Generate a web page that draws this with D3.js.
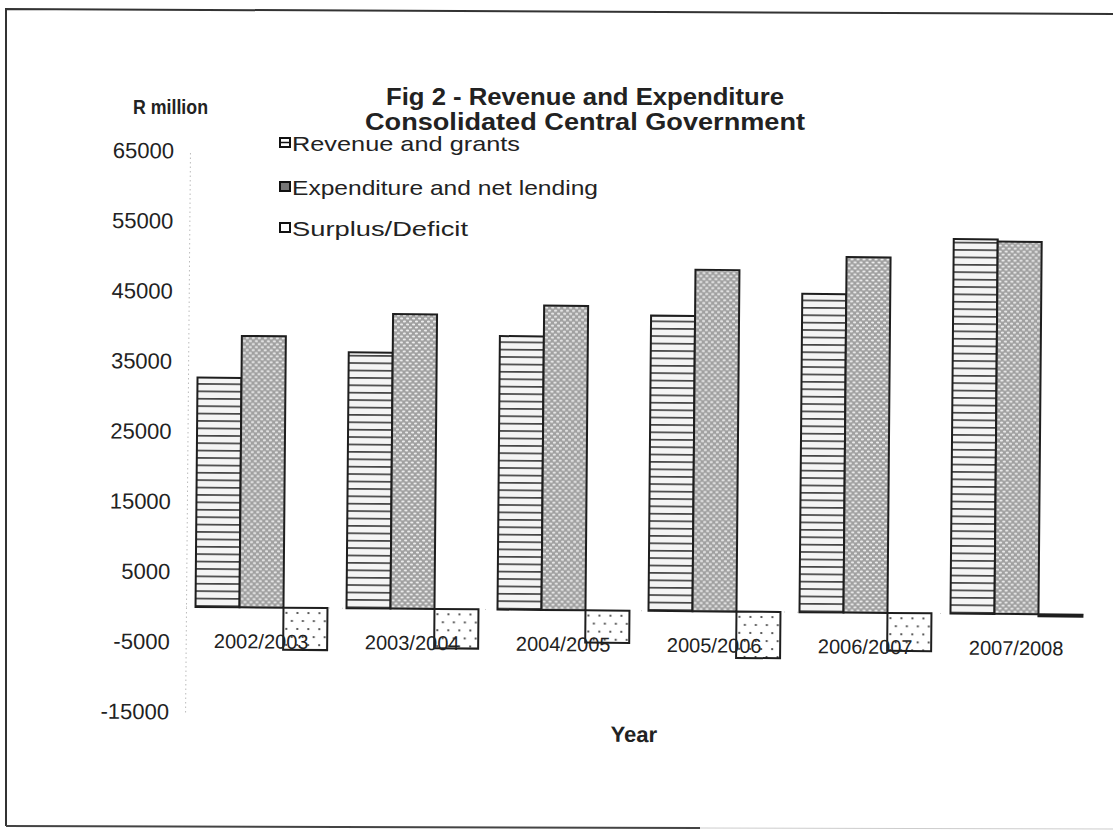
<!DOCTYPE html>
<html>
<head>
<meta charset="utf-8">
<script src="https://cdn.jsdelivr.net/npm/d3@7"></script>
<style>
  html, body { margin: 0; padding: 0; background: #fff; }
  svg text { font-family: "Liberation Sans", Arial, sans-serif; fill: #222; }
</style>
</head>
<body>
<svg id="chart" width="1113" height="833"></svg>
<script>
// ---- data ----
const categories = ["2002/2003", "2003/2004", "2004/2005", "2005/2006", "2006/2007", "2007/2008"];
const seriesNames = ["Revenue and grants", "Expenditure and net lending", "Surplus/Deficit"];
const revenue = [32700, 36500, 39000, 42100, 45400, 53400];
const expenditure = [38700, 42000, 43400, 48700, 50700, 53100];
const surplus = [-6000, -5600, -4600, -6600, -5400, -300];
const yTicks = [-15000, -5000, 5000, 15000, 25000, 35000, 45000, 55000, 65000];
const titleLines = ["Fig 2 - Revenue and Expenditure", "Consolidated Central Government"];

const seriesValues = [revenue, expenditure, surplus];

const svg = d3.select("#chart");
const defs = svg.append("defs");

// patterns
const pRev = defs.append("pattern").attr("id", "pRev").attr("patternUnits", "userSpaceOnUse")
  .attr("width", 8).attr("height", 7.4);
pRev.append("rect").attr("width", 8).attr("height", 7.4).attr("fill", "#f4f4f4");
pRev.append("rect").attr("y", 5.6).attr("width", 8).attr("height", 1.6).attr("fill", "#3a3a3a");

const pExp = defs.append("pattern").attr("id", "pExp").attr("patternUnits", "userSpaceOnUse")
  .attr("width", 6).attr("height", 6);
pExp.append("rect").attr("width", 6).attr("height", 6).attr("fill", "#a0a0a0");
pExp.append("ellipse").attr("cx", 1.5).attr("cy", 1.5).attr("rx", 1.6).attr("ry", 1.1).attr("fill", "#efefef");
pExp.append("ellipse").attr("cx", 4.5).attr("cy", 4.5).attr("rx", 1.6).attr("ry", 1.1).attr("fill", "#efefef");

const pSur = defs.append("pattern").attr("id", "pSur").attr("patternUnits", "userSpaceOnUse")
  .attr("width", 11).attr("height", 16);
pSur.append("rect").attr("width", 11).attr("height", 16).attr("fill", "#ffffff");
pSur.append("circle").attr("cx", 3).attr("cy", 4).attr("r", 1.1).attr("fill", "#333");
pSur.append("circle").attr("cx", 8.5).attr("cy", 12).attr("r", 1.1).attr("fill", "#333");

const fills = ["url(#pRev)", "url(#pExp)", "url(#pSur)"];

// page border (scanned frame)
svg.append("path")
  .attr("d", "M6,826 L6,9 L1113,14")
  .attr("fill", "none").attr("stroke", "#333").attr("stroke-width", 2);
svg.append("path")
  .attr("d", "M6,826 L700,828")
  .attr("fill", "none").attr("stroke", "#444").attr("stroke-width", 2);
svg.append("path")
  .attr("d", "M700,828 L1113,829")
  .attr("fill", "none").attr("stroke", "#ccc").attr("stroke-width", 1);

// title
const titleLens = [398, 440];
titleLines.forEach((t, i) => {
  svg.append("text").attr("text-anchor", "middle").attr("font-weight", "bold")
    .attr("font-size", 23)
    .attr("x", 585).attr("y", 105 + i * 25)
    .attr("textLength", titleLens[i]).attr("lengthAdjust", "spacingAndGlyphs")
    .text(t);
});

// y-axis title
svg.append("text").attr("x", 133).attr("y", 114).attr("font-weight", "bold")
  .attr("font-size", 20).attr("textLength", 75).attr("lengthAdjust", "spacingAndGlyphs")
  .text("R million");

// plot (slightly rotated like the scan)
const x0 = 186, x1 = 1092, yTop = 151, yBot = 712;
const plot = svg.append("g").attr("transform", `rotate(0.5, ${x0}, 607)`);

const y = d3.scaleLinear().domain([-15000, 65000]).range([yBot, yTop]);
const x = d3.scaleBand().domain(categories).range([x0, x1]).paddingInner(0.126).paddingOuter(0.063);
const xs = d3.scaleBand().domain(seriesNames).range([0, x.bandwidth()]);

// y axis (dotted light line, no ticks)
const yAxis = d3.axisLeft(y).tickValues(yTicks).tickSize(0).tickPadding(16)
  .tickFormat(d => String(d));
const gy = plot.append("g").attr("transform", `translate(${x0},0)`).call(yAxis);
gy.select(".domain").attr("stroke", "#bbb").attr("stroke-dasharray", "1.5,3").attr("stroke-width", 1);
gy.selectAll("text").attr("font-size", 22).attr("fill", "#222")
  .style("font-family", "'Liberation Sans', Arial, sans-serif");

// zero line (very faint)
plot.append("line").attr("x1", x0).attr("x2", x1).attr("y1", y(0)).attr("y2", y(0))
  .attr("stroke", "#ccc").attr("stroke-dasharray", "1,12").attr("stroke-width", 1);

// bars
const groups = plot.selectAll("g.cat").data(categories).join("g").attr("class", "cat")
  .attr("transform", d => `translate(${x(d)},0)`);

groups.each(function(cat, ci) {
  const g = d3.select(this);
  seriesNames.forEach((s, si) => {
    const v = seriesValues[si][ci];
    g.append("rect")
      .attr("x", xs(s))
      .attr("width", xs.bandwidth())
      .attr("y", y(Math.max(0, v)))
      .attr("height", Math.abs(y(v) - y(0)))
      .attr("fill", fills[si])
      .attr("stroke", "#1e1e1e")
      .attr("stroke-width", 2);
  });
});

// category labels (drawn over bars)
plot.selectAll("text.cat").data(categories).join("text").attr("class", "cat")
  .attr("x", d => x(d) + x.bandwidth() / 2)
  .attr("y", y(0) + 41)
  .attr("text-anchor", "middle").attr("font-size", 20)
  .text(d => d);

// x-axis title
plot.append("text").attr("x", 635).attr("y", 738).attr("text-anchor", "middle")
  .attr("font-weight", "bold").attr("font-size", 22).text("Year");

// legend
const legendY = [144, 188, 229];
const legendLens = [228, 306, 176];
const leg = svg.append("g");
seriesNames.forEach((s, i) => {
  const ly = legendY[i];
  leg.append("rect").attr("x", 280).attr("y", ly - 6).attr("width", 10).attr("height", 9)
    .attr("fill", i === 1 ? "#777" : "#fff").attr("stroke", "#111").attr("stroke-width", 2);
  if (i === 0) {
    leg.append("line").attr("x1", 281).attr("x2", 289).attr("y1", ly - 1.5).attr("y2", ly - 1.5)
      .attr("stroke", "#111").attr("stroke-width", 1.5);
  }
  leg.append("text").attr("x", 292).attr("y", ly + 7).attr("font-size", 21)
    .attr("textLength", legendLens[i]).attr("lengthAdjust", "spacingAndGlyphs").text(s);
});
</script>
</body>
</html>
